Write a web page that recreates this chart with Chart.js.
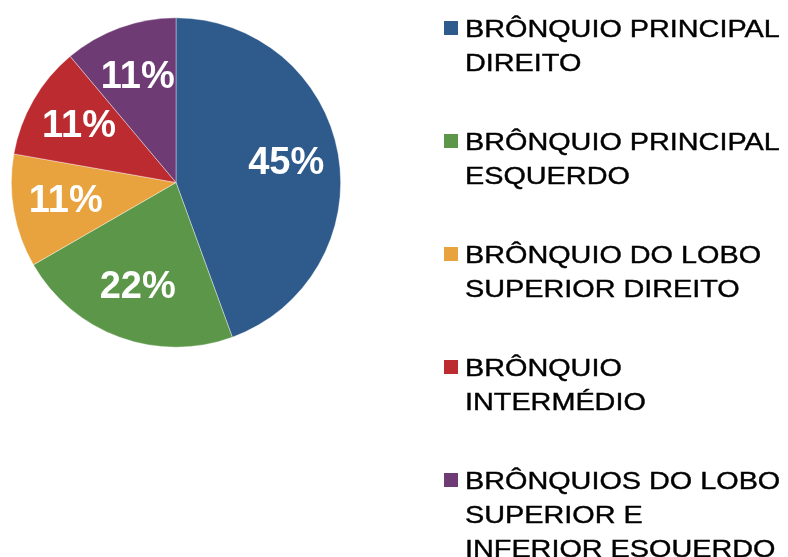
<!DOCTYPE html>
<html>
<head>
<meta charset="utf-8">
<script src="https://cdn.jsdelivr.net/npm/chart.js@4.4.1/dist/chart.umd.min.js"></script>
<style>
  html, body { margin: 0; padding: 0; background: #fff; }
  canvas { display: block; }
</style>
</head>
<body>
<canvas id="pie" width="788" height="557"></canvas>
<script>
// data (slice sizes from the angles, shown labels as printed)
let categories = [
  ['BRÔNQUIO PRINCIPAL', 'DIREITO'],
  ['BRÔNQUIO PRINCIPAL', 'ESQUERDO'],
  ['BRÔNQUIO DO LOBO', 'SUPERIOR DIREITO'],
  ['BRÔNQUIO', 'INTERMÉDIO'],
  ['BRÔNQUIOS DO LOBO', 'SUPERIOR E', 'INFERIOR ESQUERDO']
];
let counts = [4, 2, 1, 1, 1];
let pctLabels = ['45%', '22%', '11%', '11%', '11%'];
let colors = ['#2E5A8C', '#5C9649', '#E8A33E', '#BC2B30', '#6E3B75'];

// percent labels inside the slices
let sliceLabels = {
  id: 'sliceLabels',
  afterDatasetsDraw(chart) {
    let ctx = chart.ctx;
    let meta = chart.getDatasetMeta(0);
    ctx.save();
    ctx.fillStyle = '#fff';
    ctx.font = 'bold 38px "Liberation Sans", Arial, sans-serif';
    ctx.textAlign = 'center';
    ctx.textBaseline = 'middle';
    meta.data.forEach(function(arc, i) {
      let mid = (arc.startAngle + arc.endAngle) / 2;
      let r = arc.outerRadius * 0.68;
      let x = arc.x + Math.cos(mid) * r;
      let y = arc.y + Math.sin(mid) * r;
      ctx.fillText(pctLabels[i], x, y);
    });
    ctx.restore();
  }
};

// legend on the right, with wrapped names (text is a bit wide in the original)
let sideLegend = {
  id: 'sideLegend',
  afterDraw(chart) {
    let ctx = chart.ctx;
    let bg = chart.data.datasets[0].backgroundColor;
    ctx.save();
    ctx.font = '24px "Liberation Sans", Arial, sans-serif';
    ctx.textBaseline = 'alphabetic';
    ctx.strokeStyle = '#000';
    ctx.lineWidth = 0.4;
    chart.data.labels.forEach(function(lines, i) {
      let top = 21 + i * 113;
      ctx.fillStyle = bg[i];
      ctx.fillRect(444, top, 14, 14);
      ctx.fillStyle = '#000';
      lines.forEach(function(t, j) {
        ctx.save();
        ctx.translate(465, top + 15.7 + j * 34.2);
        ctx.scale(1.2, 1);
        ctx.fillText(t, 0, 0);
        ctx.strokeText(t, 0, 0);
        ctx.restore();
      });
    });
    ctx.restore();
  }
};

new Chart(document.getElementById('pie'), {
  type: 'pie',
  data: {
    labels: categories,
    datasets: [{
      data: counts,
      backgroundColor: colors,
      borderColor: 'rgba(255,255,255,0.55)',
      borderWidth: 0.7
    }]
  },
  options: {
    responsive: false,
    animation: false,
    layout: { padding: { left: 11, top: 17, right: 447, bottom: 209 } },
    plugins: {
      legend: { display: false },
      tooltip: { enabled: false }
    }
  },
  plugins: [sliceLabels, sideLegend]
});
</script>
</body>
</html>
